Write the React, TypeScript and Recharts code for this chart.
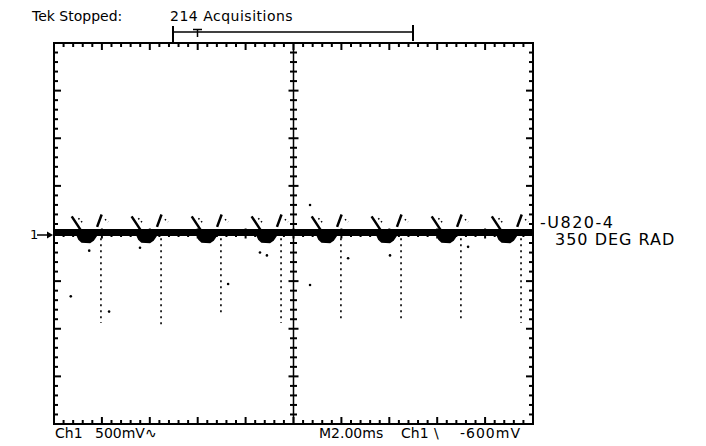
import React from "react";
import { ComposedChart, Line, Area, Scatter, XAxis, YAxis, ReferenceLine, ReferenceArea } from "recharts";

// time in ms (M2.00ms/div), Ch1 in volts (500mV/div)
const xDivs = [-10, -8, -6, -4, -2, 0, 2, 4, 6, 8, 10];
const yDivs = [-2, -1.5, -1, -0.5, 0, 0.5, 1, 1.5, 2];

const baseLevel = 0.01;

// where each pulse sits
const dipTimes = [-8.62, -6.12, -3.61, -1.11, 1.4, 3.9, 6.41, 8.92];
const spikeTimes = [-8.04, -5.53, -3.03, -0.52, 1.98, 4.49, 6.99, 9.5];
const spikeBottoms = [-0.94, -0.96, -0.87, -0.94, -0.89, -0.93, -0.89, -0.94];

// dip blob under the trace
const dipOffsets = [-0.45, -0.34, -0.22, 0.12, 0.26, 0.4, 0.55];
const dipLevels = [0, -0.06, -0.09, -0.095, -0.07, -0.02, 0];

// the "V" arms above each dip (null = pen up)
const armOffsets = [-0.64, -0.22, 0, 0.42, 0.61, 0.7];
const armLevels = [0.18, 0.02, null, 0.07, 0.2, null];
const faintOffsets = [-0.36, -0.18, 0, 0.75, 0.88, 0.95];
const faintLevels = [0.16, 0.11, null, 0.15, 0.12, null];

// stray acquisition dots
const strayT = [-9.3, -7.7, -8.53, -6.41, -2.73, -1.4, -1.11, 0.69, 2.28, 0.69, 4.03, 7.29];
const strayV = [-0.66, -0.82, -0.18, -0.15, -0.53, -0.2, -0.23, 0.3, -0.26, -0.54, -0.23, -0.14];

const subdivide = (divs: number[]) =>
  divs.flatMap((d, i) =>
    i === divs.length - 1 ? [d] : [0, 1, 2, 3, 4].map((k) => d + (k * (divs[i + 1] - d)) / 5)
  );

const xTicks = subdivide(xDivs);
const yTicks = subdivide(yDivs);

const traceData = [
  { t: -10, v: baseLevel },
  { t: 10, v: baseLevel },
];
const dipData = [
  { t: -10, v: 0 },
  ...dipTimes.flatMap((d) => dipOffsets.map((o, i) => ({ t: d + o, v: dipLevels[i] }))),
  { t: 10, v: 0 },
];
const armData = dipTimes.flatMap((d) => armOffsets.map((o, i) => ({ t: d + o, v: armLevels[i] })));
const faintData = dipTimes.flatMap((d) => faintOffsets.map((o, i) => ({ t: d + o, v: faintLevels[i] })));
const spikeData = spikeTimes.flatMap((s, i) => [
  { t: s, v: -0.05 },
  { t: s, v: spikeBottoms[i] },
  { t: s, v: null },
]);
const strayData = strayT.map((t, i) => ({ t, v: strayV[i] }));

const isMajor = (val: number, majors: number[]) => majors.some((m) => Math.abs(m - val) < 1e-6);

type Dir = "up" | "down" | "left" | "right" | "h" | "v";
const tickShape = (dir: Dir) => (p: any) => {
  const { cx, cy, payload } = p;
  const onX = dir === "up" || dir === "down" || dir === "v";
  const major = isMajor(onX ? payload.t : payload.v, onX ? xDivs : yDivs);
  const len = major ? 7 : 4;
  let x1 = cx, y1 = cy, x2 = cx, y2 = cy;
  if (dir === "up") y2 = cy - len;
  if (dir === "down") y2 = cy + len;
  if (dir === "right") x2 = cx + len;
  if (dir === "left") x2 = cx - len;
  if (dir === "h") { x1 = cx - (major ? 5 : 3.5); x2 = cx + (major ? 5 : 3.5); }
  if (dir === "v") { y1 = cy - (major ? 5 : 3.5); y2 = cy + (major ? 5 : 3.5); }
  return <line x1={x1} y1={y1} x2={x2} y2={y2} stroke="#000" strokeWidth={2} />;
};

const dot = (p: any) => <circle cx={p.cx} cy={p.cy} r={1.3} fill="#000" />;

export default function App() {
  return (
    <div style={{ position: "absolute", left: 0, top: 0, width: 706, height: 446, background: "#fff" }}>
      <ComposedChart width={706} height={446} margin={{ top: 43, right: 173, bottom: 22, left: 54 }}>
        <XAxis dataKey="t" type="number" domain={[-10, 10]} allowDataOverflow hide />
        <YAxis type="number" domain={[-2, 2]} allowDataOverflow hide />
        <ReferenceArea x1={-10} x2={10} y1={-2} y2={2} fill="none" stroke="#000" strokeWidth={2} />
        <ReferenceLine x={0} stroke="#000" strokeWidth={1.5} />
        <ReferenceLine y={0} stroke="#000" strokeWidth={1.5} />

        <Scatter data={xTicks.map((t) => ({ t, v: -2 }))} dataKey="v" shape={tickShape("up")} isAnimationActive={false} />
        <Scatter data={xTicks.map((t) => ({ t, v: 2 }))} dataKey="v" shape={tickShape("down")} isAnimationActive={false} />
        <Scatter data={yTicks.map((v) => ({ t: -10, v }))} dataKey="v" shape={tickShape("right")} isAnimationActive={false} />
        <Scatter data={yTicks.map((v) => ({ t: 10, v }))} dataKey="v" shape={tickShape("left")} isAnimationActive={false} />
        <Scatter data={yTicks.map((v) => ({ t: 0, v }))} dataKey="v" shape={tickShape("h")} isAnimationActive={false} />
        <Scatter data={xTicks.map((t) => ({ t, v: 0 }))} dataKey="v" shape={tickShape("v")} isAnimationActive={false} />

        <Line data={spikeData} dataKey="v" stroke="#000" strokeWidth={1.6} strokeDasharray="2 4" dot={false} isAnimationActive={false} />
        <Area data={dipData} dataKey="v" baseValue={0} stroke="#000" strokeWidth={1.5} fill="#000" fillOpacity={1} isAnimationActive={false} />
        <Line data={traceData} dataKey="v" stroke="#000" strokeWidth={7} dot={false} isAnimationActive={false} />
        <Line data={armData} dataKey="v" stroke="#000" strokeWidth={2.5} dot={false} isAnimationActive={false} />
        <Line data={faintData} dataKey="v" stroke="#000" strokeWidth={1.5} strokeDasharray="1.5 2.5" dot={false} isAnimationActive={false} />
        <Scatter data={strayData} dataKey="v" shape={dot} isAnimationActive={false} />
      </ComposedChart>

      <svg width={706} height={446} style={{ position: "absolute", left: 0, top: 0, pointerEvents: "none" }} fontFamily="DejaVu Sans" fill="#000">
        <text x={32} y={21} fontSize={14}>Tek Stopped:</text>
        <text x={170} y={21} fontSize={14} letterSpacing={0.5}>214 Acquisitions</text>
        <g stroke="#000" strokeWidth={1.5}>
          <line x1={173} y1={32} x2={413} y2={32} />
          <line x1={173} y1={26} x2={173} y2={43} strokeWidth={2} />
          <line x1={413} y1={25} x2={413} y2={41} strokeWidth={2} />
          <line x1={193} y1={29.5} x2={202} y2={29.5} />
          <line x1={197.5} y1={29.5} x2={197.5} y2={37} />
        </g>
        <text x={30} y={239} fontSize={13}>1</text>
        <line x1={37} y1={235} x2={48} y2={235} stroke="#000" strokeWidth={1.5} />
        <polygon points="53,235 47,231.5 47,238.5" />
        <text x={540} y={228} fontSize={16} letterSpacing={1.5}>-U820-4</text>
        <text x={555} y={245} fontSize={16} letterSpacing={1}>350 DEG RAD</text>
        <text x={55} y={438} fontSize={14}>Ch1</text>
        <text x={95} y={438} fontSize={14}>500mV∿</text>
        <text x={319} y={438} fontSize={14}>M2.00ms</text>
        <text x={401} y={438} fontSize={14}>Ch1</text>
        <text x={434} y={438} fontSize={14}>\</text>
        <text x={460} y={438} fontSize={14} letterSpacing={1}>-600mV</text>
      </svg>
    </div>
  );
}
